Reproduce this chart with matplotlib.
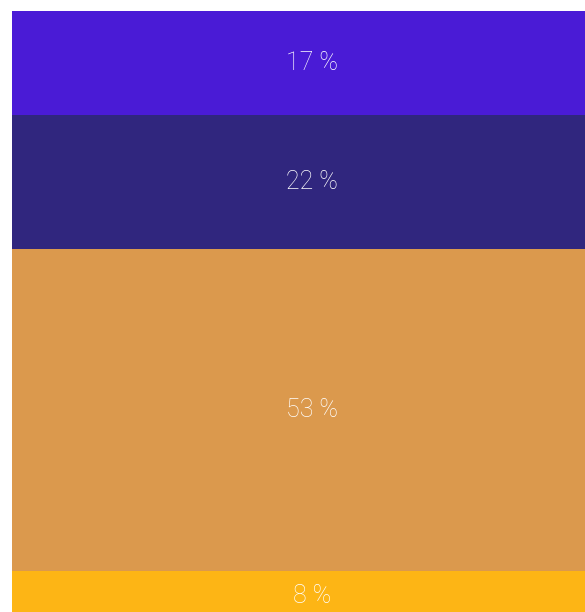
import numpy as np
import matplotlib
matplotlib.use('Agg')
import matplotlib.pyplot as plt

# shares from top to bottom of the column
labels = ['17 %', '22 %', '53 %', '8 %']
shares = [17, 22, 53, 8]
colors = ['#4a1bd6', '#30267e', '#db994d', '#fdb515']

W, H = 585, 612
fig = plt.figure(figsize=(W / 100, H / 100), dpi=100)
# column runs a little past the right and bottom edges
ax = fig.add_axes([12 / W, -8 / H, 600 / W, 609 / H])

# stack from the bottom up
vals = shares[::-1]
cols = colors[::-1]
labs = labels[::-1]
bottoms = np.concatenate([[0], np.cumsum(vals)[:-1]])

for v, b, c, t in zip(vals, bottoms, cols, labs):
    bars = ax.bar(0, v, bottom=b, width=1.0, color=c, linewidth=0)
    ax.bar_label(bars, labels=[t], label_type='center', color='white',
                 fontsize=18, family=['Roboto', 'DejaVu Sans'], fontweight='light')

ax.set_xlim(-0.5, 0.5)
ax.set_ylim(0, sum(shares))
ax.axis('off')

fig.savefig('out.png', dpi=100)
